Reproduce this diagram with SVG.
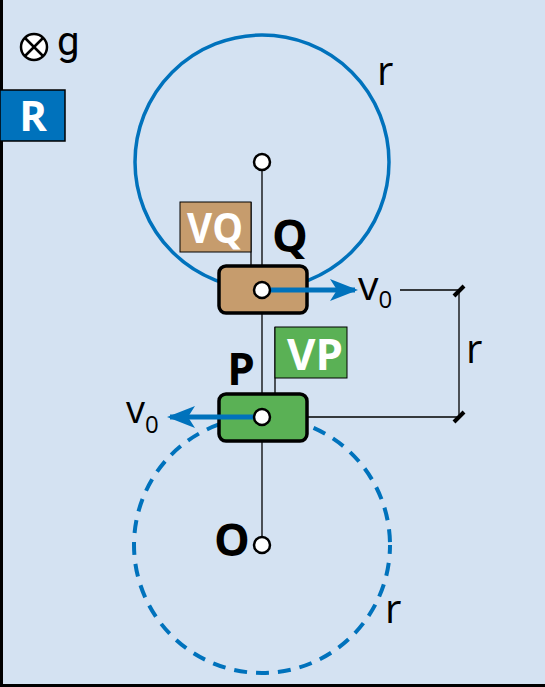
<svg xmlns="http://www.w3.org/2000/svg" width="545" height="687" viewBox="0 0 545 687">
<defs>
<style>
.t{font-family:"Open Sans","Liberation Sans",sans-serif;}
.b{font-weight:bold;text-anchor:middle}
.thin{stroke:#000;stroke-width:1.3;fill:none}
.dot{fill:#fff;stroke:#000;stroke-width:2.5}
.blk{stroke:#000;stroke-width:3.5}
.vec{stroke:#0072bc;stroke-width:5;fill:none}
</style>
<marker id="ah2" viewBox="0 0 28 22" refX="25" refY="11" markerWidth="28" markerHeight="22" orient="auto" markerUnits="userSpaceOnUse">
<path d="M0,0 L28,11 L0,22 L7,11 Z" fill="#0072bc"/>
</marker>
</defs>
<rect x="0" y="0" width="545" height="687" fill="#d4e2f2"/>
<line x1="1.5" y1="0" x2="1.5" y2="687" stroke="#000" stroke-width="3"/>
<line x1="0" y1="685.5" x2="545" y2="685.5" stroke="#000" stroke-width="3"/>

<g id="gravity">
<circle cx="34" cy="47" r="13" fill="#fff" stroke="#000" stroke-width="2.5"/>
<line x1="25" y1="38" x2="43" y2="56" stroke="#000" stroke-width="2.5"/>
<line x1="43" y1="38" x2="25" y2="56" stroke="#000" stroke-width="2.5"/>
<text x="57" y="55" font-size="40" font-family="Roboto,'Liberation Sans',sans-serif">g</text>
</g>

<g id="R">
<rect x="0" y="90" width="65" height="51" fill="#0072bc" stroke="#000" stroke-width="1.5"/>
<text class="t b" x="33" y="131" font-size="42" fill="#fff">R</text>
</g>

<g id="circleTop">
<circle cx="262" cy="162" r="127" fill="none" stroke="#0072bc" stroke-width="3.5"/>
<text class="t" x="377" y="85" font-size="40">r</text>
</g>
<g id="circleBottom">
<circle cx="262" cy="545" r="128" fill="none" stroke="#0072bc" stroke-width="4" stroke-dasharray="13,9" stroke-dashoffset="4"/>
<text class="t" x="385" y="623" font-size="40">r</text>
</g>

<g id="connectors">
<line class="thin" x1="262" y1="162" x2="262" y2="545"/>
<line class="thin" x1="251" y1="202" x2="251" y2="266"/>
<line class="thin" x1="275" y1="327" x2="275" y2="394"/>
<line class="thin" x1="262" y1="417" x2="458" y2="417"/>
<line class="thin" x1="400" y1="290" x2="458" y2="290"/>
<line class="thin" x1="459" y1="290" x2="459" y2="417"/>
<line x1="454" y1="296" x2="464" y2="286" stroke="#000" stroke-width="4"/>
<line x1="454" y1="422" x2="464" y2="412" stroke="#000" stroke-width="4"/>
<text class="t" x="466" y="363" font-size="40">r</text>
</g>

<g id="VQ">
<rect x="180" y="202" width="71" height="50" fill="#c69c6d" stroke="#000" stroke-width="1"/>
<text class="t b" x="215" y="243" font-size="42" fill="#fff" textLength="56" lengthAdjust="spacingAndGlyphs">VQ</text>
</g>

<g id="Q">
<rect x="219" y="266" width="88" height="47" rx="7" fill="#c69c6d" class="blk"/>
<text class="t b" x="290" y="252" font-size="45">Q</text>
</g>

<g id="VP">
<rect x="275" y="327" width="72" height="51" fill="#5ab155" stroke="#000" stroke-width="1"/>
<text class="t b" x="315" y="370" font-size="43" fill="#fff" textLength="56" lengthAdjust="spacingAndGlyphs">VP</text>
</g>

<g id="P">
<rect x="219" y="394" width="88" height="47" rx="7" fill="#5ab155" class="blk"/>
<text class="t b" x="241" y="385" font-size="44">P</text>
</g>

<g id="O">
<text class="t b" x="232" y="556" font-size="45">O</text>
</g>

<g id="vectors">
<line class="vec" x1="262" y1="290" x2="355" y2="290" marker-end="url(#ah2)"/>
<line class="vec" x1="262" y1="417" x2="170" y2="417" marker-end="url(#ah2)"/>
<text class="t" x="358" y="300" font-size="41">v<tspan font-size="24" dy="8">0</tspan></text>
<text class="t" x="126" y="423" font-size="38">v<tspan font-size="24" dy="10">0</tspan></text>
</g>

<g id="dots">
<circle class="dot" cx="262" cy="162" r="8"/>
<circle class="dot" cx="262" cy="290" r="8"/>
<circle class="dot" cx="262" cy="417" r="8"/>
<circle class="dot" cx="262" cy="545" r="8"/>
</g>
</svg>
